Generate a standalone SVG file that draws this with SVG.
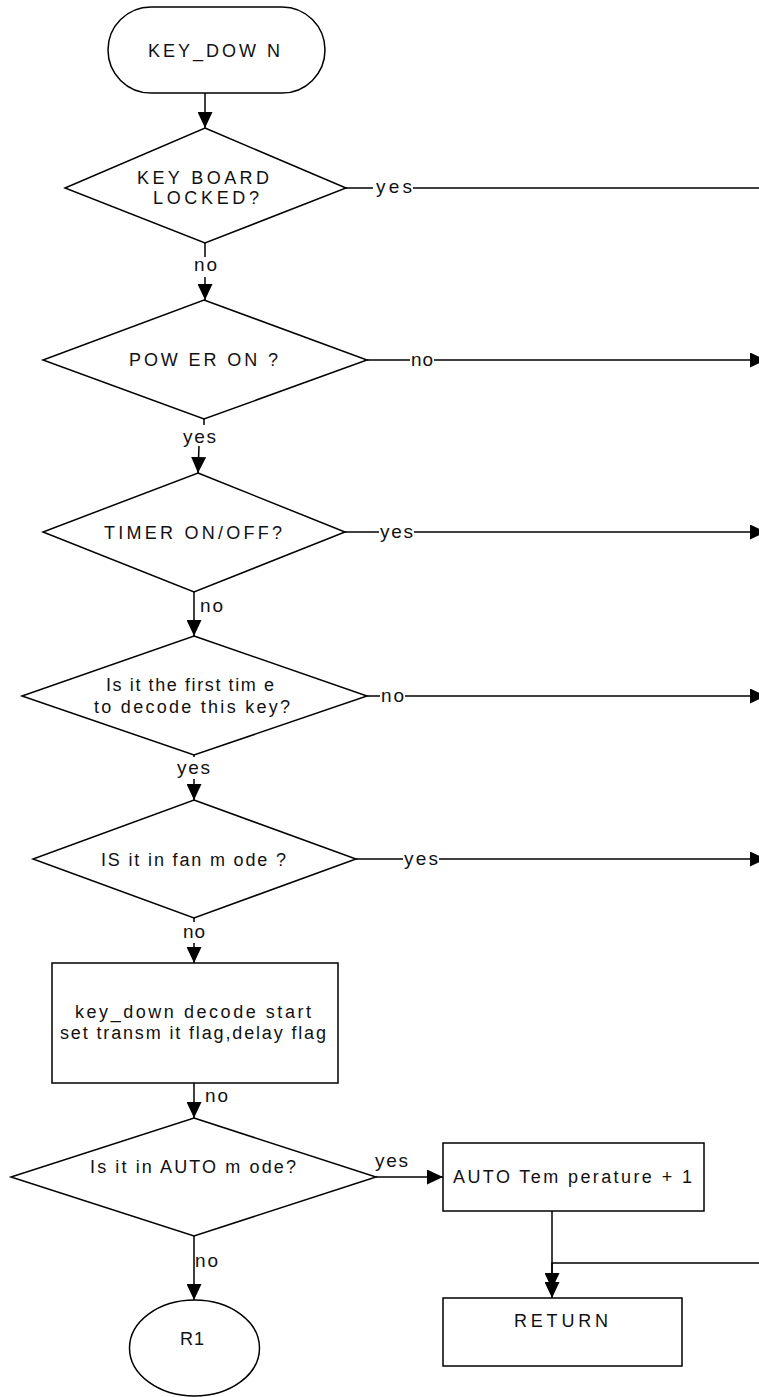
<svg xmlns="http://www.w3.org/2000/svg" width="759" height="1397" viewBox="0 0 759 1397">
<defs>
<marker id="ah" markerUnits="userSpaceOnUse" markerWidth="16" markerHeight="15" refX="16" refY="7.5" orient="auto">
<path d="M0,0 L16,7.5 L0,15 Z" fill="#000"/>
</marker>
<style>
.sh{fill:#fff;stroke:#000;stroke-width:1.5}
.t{font-family:"Liberation Sans",Arial,sans-serif;font-size:18px;fill:#111}
.l{font-family:"Liberation Sans",Arial,sans-serif;font-size:19px;fill:#111}
.c{fill:none;stroke:#000;stroke-width:1.5}
.a{fill:none;stroke:#000;stroke-width:1.5;marker-end:url(#ah)}
</style>
</defs>
<rect width="759" height="1397" fill="#fff"/>
<g id="connectors">
<path class="a" d="M205,93 V128"/>
<path class="c" d="M346,188 H373 M413,188 H759"/>
<path class="c" d="M205,243 V257"/>
<path class="a" d="M205,277 V300"/>
<path class="c" d="M367,360 H410"/>
<path class="a" d="M434,360 H766"/>
<path class="c" d="M204,419 V425"/>
<path class="a" d="M199,446 L198,473"/>
<path class="c" d="M345,532 H379"/>
<path class="a" d="M414,532 H766"/>
<path class="a" d="M194,592 V636"/>
<path class="c" d="M367,696 H380"/>
<path class="a" d="M405,696 H766"/>
<path class="c" d="M194,755 V757"/>
<path class="a" d="M194,779 V800"/>
<path class="c" d="M356,859 H403"/>
<path class="a" d="M439,859 H766"/>
<path class="c" d="M194,918 V922"/>
<path class="a" d="M194,943 V963"/>
<path class="a" d="M194,1083 V1118"/>
<path class="a" d="M376,1177 H443"/>
<path class="a" d="M194,1236 V1300"/>
<path class="a" d="M552,1211 V1298"/>
<path class="a" d="M759,1263 H552 V1289"/>
<text class="l" x="376" y="193" textLength="36" lengthAdjust="spacing">yes</text>
<text class="l" x="194" y="271" textLength="23" lengthAdjust="spacing">no</text>
<text class="l" x="411" y="366" textLength="22" lengthAdjust="spacing">no</text>
<text class="l" x="183" y="443" textLength="33" lengthAdjust="spacing">yes</text>
<text class="l" x="380" y="538" textLength="33" lengthAdjust="spacing">yes</text>
<text class="l" x="200" y="612" textLength="23" lengthAdjust="spacing">no</text>
<text class="l" x="381" y="702" textLength="23" lengthAdjust="spacing">no</text>
<text class="l" x="177" y="774" textLength="33" lengthAdjust="spacing">yes</text>
<text class="l" x="404" y="865" textLength="34" lengthAdjust="spacing">yes</text>
<text class="l" x="183" y="938" textLength="22" lengthAdjust="spacing">no</text>
<text class="l" x="205" y="1102" textLength="23" lengthAdjust="spacing">no</text>
<text class="l" x="375" y="1167" textLength="33" lengthAdjust="spacing">yes</text>
<text class="l" x="195" y="1267" textLength="23" lengthAdjust="spacing">no</text>
</g>
<g id="start">
<rect class="sh" x="108" y="7" width="217" height="86" rx="43"/>
<text class="t" x="148" y="57" textLength="132" lengthAdjust="spacing">KEY_DOW N</text>
</g>
<g id="d1">
<polygon class="sh" points="205,128 346,188 205,243 65,188"/>
<text class="t" x="137" y="184" textLength="132" lengthAdjust="spacing">KEY BOARD</text>
<text class="t" x="153" y="204" textLength="106" lengthAdjust="spacing">LOCKED?</text>
</g>
<g id="d2">
<polygon class="sh" points="204,300 367,360 204,419 43,360"/>
<text class="t" x="129" y="366" textLength="149" lengthAdjust="spacing">POW ER ON ?</text>
</g>
<g id="d3">
<polygon class="sh" points="198,473 345,532 194,592 43,532"/>
<text class="t" x="104" y="539" textLength="178" lengthAdjust="spacing">TIMER ON/OFF?</text>
</g>
<g id="d4">
<polygon class="sh" points="194,636 367,696 194,755 22,696"/>
<text class="t" x="106" y="691" textLength="168" lengthAdjust="spacing">Is it the first tim e</text>
<text class="t" x="94" y="713" textLength="196" lengthAdjust="spacing">to decode this key?</text>
</g>
<g id="d5">
<polygon class="sh" points="194,800 356,859 194,918 33,859"/>
<text class="t" x="101" y="866" textLength="185" lengthAdjust="spacing">IS it in fan m ode ?</text>
</g>
<g id="p1">
<rect class="sh" x="52" y="963" width="286" height="120"/>
<text class="t" x="75" y="1018" textLength="236" lengthAdjust="spacing">key_down decode start</text>
<text class="t" x="60" y="1039" textLength="266" lengthAdjust="spacing">set transm it flag,delay flag</text>
</g>
<g id="d6">
<polygon class="sh" points="194,1118 376,1177 194,1236 11,1177"/>
<text class="t" x="90" y="1173" textLength="206" lengthAdjust="spacing">Is it in AUTO m ode?</text>
</g>
<g id="p2">
<rect class="sh" x="443" y="1143" width="261" height="68"/>
<text class="t" x="453" y="1183" textLength="239" lengthAdjust="spacing">AUTO Tem perature + 1</text>
</g>
<g id="ret">
<rect class="sh" x="443" y="1298" width="239" height="68"/>
<text class="t" x="514" y="1327" textLength="94" lengthAdjust="spacing">RETURN</text>
</g>
<g id="r1">
<ellipse class="sh" cx="194.5" cy="1348" rx="65" ry="48"/>
<text class="t" x="180" y="1345" textLength="24" lengthAdjust="spacing">R1</text>
</g>
</svg>
